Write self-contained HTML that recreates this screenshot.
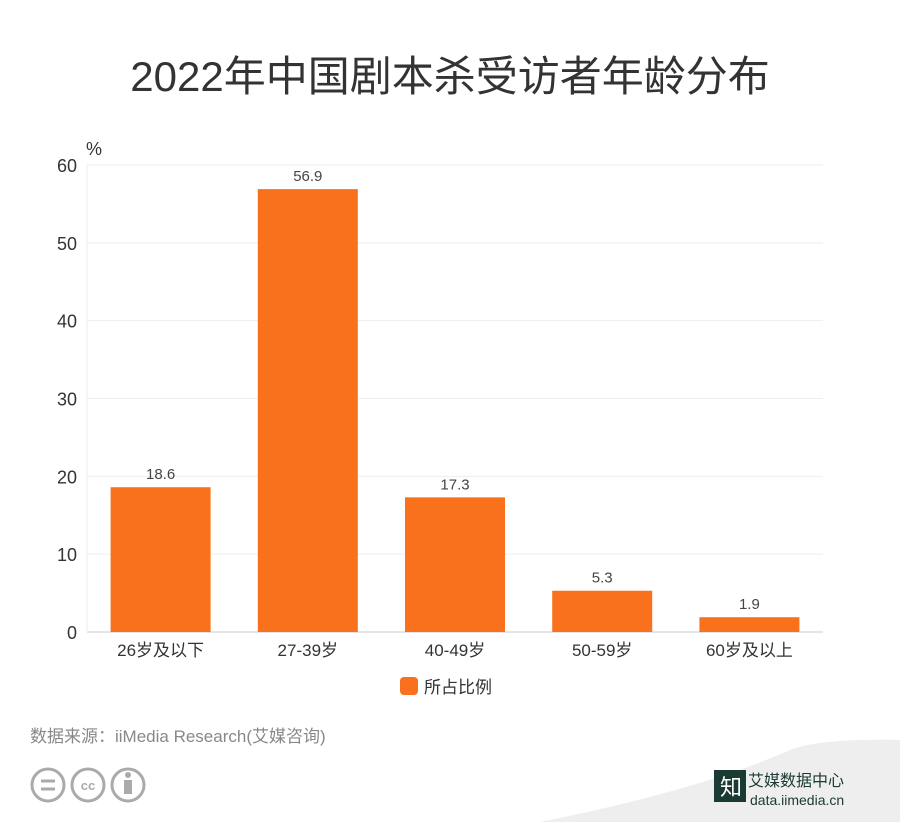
<!DOCTYPE html>
<html><head><meta charset="utf-8"><style>
html,body{margin:0;padding:0;background:#fff;}
body{width:900px;height:822px;position:relative;overflow:hidden;font-family:"Liberation Sans","Noto Sans CJK SC",sans-serif;}
.t{position:absolute;white-space:nowrap;}
</style></head><body>
<div class="t" style="left:0;width:900px;text-align:center;top:43px;font-size:42px;color:#333;">2022年中国剧本杀受访者年龄分布</div>
<svg width="900" height="822" style="position:absolute;left:0;top:0">
<g id="grid"></g><g id="bars"></g><g id="labels"></g>
<text x="86" y="155" font-size="18" fill="#333">%</text>
<rect x="400" y="677" width="18" height="18" rx="4" fill="#FA711D"/>
<text x="424" y="693" font-size="17" fill="#333" font-family="Liberation Sans,Noto Sans CJK SC,sans-serif">所占比例</text>
<text x="30" y="742" font-size="17" fill="#888" font-family="Liberation Sans,Noto Sans CJK SC,sans-serif">数据来源：iiMedia Research(艾媒咨询)</text>
<g fill="none" stroke="#aaa" stroke-width="3">
<circle cx="48" cy="785" r="16"/><circle cx="88" cy="785" r="16"/><circle cx="128" cy="785" r="16"/>
<line x1="41" y1="781" x2="55" y2="781"/><line x1="41" y1="789" x2="55" y2="789"/>
</g>
<text x="88" y="790" font-size="13" fill="#aaa" text-anchor="middle" font-weight="bold">cc</text>
<circle cx="128" cy="775" r="3" fill="#aaa"/><rect x="124" y="780" width="8" height="14" fill="#aaa"/>
<path d="M540 822 Q700 790 790 750 Q820 738 900 740 L900 822 Z" fill="#eee"/>
<rect x="714" y="770" width="32" height="32" fill="#1a3a33"/>
<text x="720" y="795" font-size="22" fill="#fff" font-family="Noto Sans CJK SC,sans-serif">知</text>
<text x="748" y="786" font-size="16" fill="#1a3a33" font-family="Noto Sans CJK SC,sans-serif">艾媒数据中心</text>
<text x="750" y="805" font-size="14" fill="#1a3a33">data.iimedia.cn</text>
</svg>
<script>
const categories=["26岁及以下","27-39岁","40-49岁","50-59岁","60岁及以上"];
const values=[18.6,56.9,17.3,5.3,1.9];
const yTicks=[0,10,20,30,40,50,60];
const NS="http://www.w3.org/2000/svg";
const x0=87,x1=823,y0=632,y1=165,yMax=60;
const band=(x1-x0)/categories.length,bw=100;
const ys=v=>y0-(v/yMax)*(y0-y1);
const xs=i=>x0+band*i+band/2;
function mk(tag,attrs,parent,text){const e=document.createElementNS(NS,tag);for(const k in attrs)e.setAttribute(k,attrs[k]);if(text!=null)e.textContent=text;document.getElementById(parent).appendChild(e);return e;}
yTicks.forEach(t=>{
 const l=mk('line',{x1:x0,x2:x1,y1:ys(t),y2:ys(t),stroke:t===0?'#ccc':'#eee','stroke-width':1},'grid');
 
 
 const tx=mk('text',{x:77,y:ys(t)+7,'font-size':18,fill:'#333','text-anchor':'end'},'labels',t);
 
 
});
const ax=mk('line',{x1:x0,x2:x0,y1:y1,y2:y0,stroke:'#eee'},'grid');


categories.forEach((c,i)=>{
 const v=values[i];
 const r=mk('rect',{x:xs(i)-bw/2,y:ys(v),width:bw,height:y0-ys(v),fill:'#FA711D'},'bars');
 
 
 const vl=mk('text',{x:xs(i),y:ys(v)-8,'font-size':15,fill:'#444','text-anchor':'middle'},'labels',v);
 
 
 const cl=mk('text',{x:xs(i),y:y0+24,'font-size':17,fill:'#333','text-anchor':'middle','font-family':'Liberation Sans,Noto Sans CJK SC,sans-serif'},'labels',c);
 
 
});
</script>
</body></html>
